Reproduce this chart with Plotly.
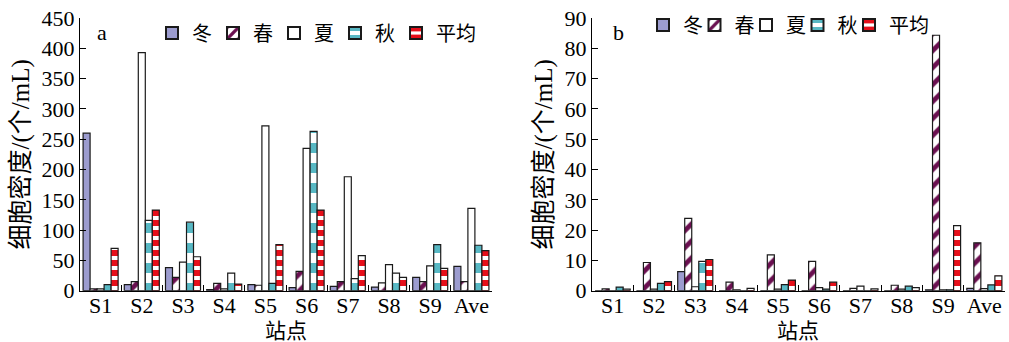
import plotly.graph_objects as go
from plotly.subplots import make_subplots

sites = ["S1", "S2", "S3", "S4", "S5", "S6", "S7", "S8", "S9", "Ave"]
seasons = ["冬", "春", "夏", "秋", "平均"]

# panel a
a_winter = [260, 10, 38, 2, 10, 5, 7, 6, 22, 40]
a_spring = [3, 15, 22, 12, 9, 32, 15, 13, 15, 15]
a_summer = [3, 393, 47, 3, 272, 235, 188, 43, 41, 136]
a_autumn = [10, 116, 113, 29, 12, 263, 20, 29, 76, 75]
a_mean = [70, 133, 56, 11, 76, 133, 58, 22, 37, 66]

# panel b
b_winter = [0, 0, 6.3, 0, 0, 0, 0, 0, 0.3, 0.8]
b_spring = [0.6, 9.3, 23.9, 2.8, 11.8, 9.7, 0.8, 1.8, 84.3, 15.8]
b_summer = [0, 0.5, 1.3, 0.3, 0.5, 1.0, 1.5, 0.5, 0.3, 0.7]
b_autumn = [1.2, 2.4, 9.7, 0, 2.0, 0.5, 0, 1.5, 0.3, 1.9]
b_mean = [0.5, 3.0, 10.3, 0.8, 3.5, 2.8, 0.6, 1.0, 21.5, 4.9]

FONT = "Liberation Serif, Times New Roman, Noto Sans CJK SC, serif"
W, H = 1009, 342

styles = [
    dict(color="#9c9ccf", pattern=None),
    dict(color="white", pattern=dict(shape="/", fgcolor="#6a0f50", bgcolor="white", size=12, solidity=0.4, fillmode="replace")),
    dict(color="white", pattern=None),
    dict(color="white", pattern=dict(shape="-", fgcolor="#58b8c4", bgcolor="white", size=20, solidity=0.5, fillmode="replace")),
    dict(color="white", pattern=dict(shape="-", fgcolor="#e60f1a", bgcolor="white", size=10, solidity=0.6, fillmode="replace")),
]

fig = make_subplots(rows=1, cols=2)

for col, series, leg in [(1, [a_winter, a_spring, a_summer, a_autumn, a_mean], "legend"),
                         (2, [b_winter, b_spring, b_summer, b_autumn, b_mean], "legend2")]:
    for name, vals, st in zip(seasons, series, styles):
        marker = dict(color=st["color"], line=dict(color="#1a1a1a", width=1.2))
        if st["pattern"]:
            marker["pattern"] = st["pattern"]
        fig.add_trace(go.Bar(x=sites, y=vals, name=name, marker=marker,
                             legend=leg, showlegend=True,
                             legendwidth=(45 if name == "平均" else None)), row=1, col=col)

xa_dom = [80 / W, 492 / W]
xb_dom = [592 / W, 1005 / W]
y_dom = [1 - 290.7 / H, 1 - 18 / H]

common_x = dict(showline=True, linecolor="black", linewidth=1, ticks="inside", ticklen=6,
                tickson="boundaries", tickcolor="black", showgrid=False, zeroline=False,
                automargin=False, tickangle=0, ticklabelstandoff=-5,
                tickfont=dict(family=FONT, size=22, color="black"))
common_y = dict(showline=True, linecolor="black", linewidth=1, ticks="inside", ticklen=6,
                tickcolor="black", showgrid=False, zeroline=False, automargin=False,
                tickfont=dict(family=FONT, size=22, color="black"),
                title=dict(text="细胞密度/(个/mL)", font=dict(family=FONT, size=25, color="black"), standoff=4))

fig.update_xaxes(domain=xa_dom, row=1, col=1, **common_x)
fig.update_xaxes(domain=xb_dom, row=1, col=2, **common_x)
fig.update_yaxes(domain=y_dom, row=1, col=1, range=[0, 450], dtick=50, **common_y)
fig.update_yaxes(domain=y_dom, row=1, col=2, range=[0, 90], dtick=10, **common_y)

legend_common = dict(orientation="h", yanchor="middle", xanchor="left", bgcolor="rgba(0,0,0,0)",
                     font=dict(family=FONT, size=20, color="black"), traceorder="normal",
                     itemsizing="constant", tracegroupgap=0)


def label(text, xpx, ypx, size):
    return dict(text=text, x=xpx / W, y=1 - ypx / H, xref="paper", yref="paper", showarrow=False,
                xanchor="center", yanchor="middle", font=dict(family=FONT, size=size, color="black"))


fig.update_layout(
    width=W, height=H,
    margin=dict(l=0, r=0, t=0, b=0),
    paper_bgcolor="white", plot_bgcolor="white",
    barmode="group", bargap=0.15, bargroupgap=0,
    font=dict(family=FONT, color="black"),
    legend=dict(x=152 / W, y=1 - 33 / H, entrywidth=16, **legend_common),
    legend2=dict(x=643 / W, y=1 - 25 / H, entrywidth=6.5, **legend_common),
    annotations=[
        label("a", 102, 32, 22),
        label("b", 618, 32, 22),
        label("站点", 286, 331, 21),
        label("站点", 798, 331, 21),
    ],
)

fig.write_html("out.html", config={"displayModeBar": False},
               post_script="document.body.style.margin='0';document.body.style.padding='0';")
